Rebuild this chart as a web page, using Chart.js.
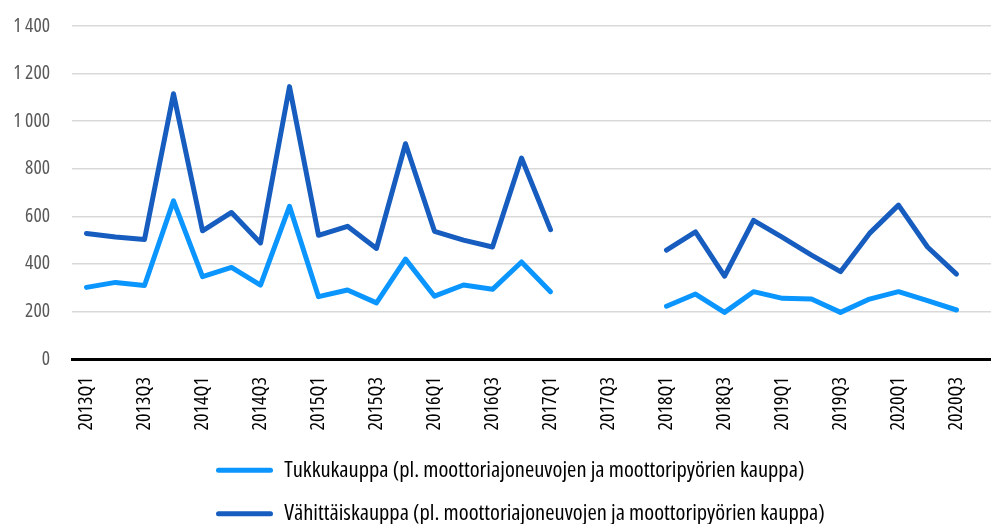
<!DOCTYPE html>
<html>
<head>
<meta charset="utf-8">
<script src="https://cdn.jsdelivr.net/npm/chart.js@4/dist/chart.umd.min.js"></script>
<style>
  html, body { margin: 0; padding: 0; overflow: hidden; background: #fff; }
  #chart { display: block; }
</style>
</head>
<body>
<canvas id="chart" width="1010" height="535"></canvas>
<script>
  // quarters 2013Q1 .. 2020Q4 (original picture is cropped at the right edge)
  const quarters = [
    '2013Q1','2013Q2','2013Q3','2013Q4',
    '2014Q1','2014Q2','2014Q3','2014Q4',
    '2015Q1','2015Q2','2015Q3','2015Q4',
    '2016Q1','2016Q2','2016Q3','2016Q4',
    '2017Q1','2017Q2','2017Q3','2017Q4',
    '2018Q1','2018Q2','2018Q3','2018Q4',
    '2019Q1','2019Q2','2019Q3','2019Q4',
    '2020Q1','2020Q2','2020Q3','2020Q4'
  ];

  const tukkukauppa = [
    301, 322, 309, 665,
    346, 385, 311, 642,
    262, 290, 236, 420,
    264, 311, 293, 408,
    283, null, null, null,
    222, 273, 196, 283,
    255, 252, 196, 252,
    283, 245, 206, null
  ];

  const vahittaiskauppa = [
    528, 513, 502, 1115,
    539, 616, 488, 1145,
    520, 558, 465, 905,
    537, 500, 471, 845,
    544, null, null, null,
    458, 534, 348, 583,
    511, 437, 367, 528,
    647, 471, 357, null
  ];

  const yTicks = [0, 200, 400, 600, 800, 1000, 1200, 1400];

  // 'condensed' goes in the weight slot so the font string becomes "condensed 20px 'Open Sans'"
  const FONT = "'Open Sans', 'Roboto Condensed', sans-serif";
  const COND = 'condensed';

  // legend rows start at the same x, like the original
  const legendPlace = {
    id: 'legendPlace',
    afterLayout(chart) {
      chart.legend.left = 216 - chart.legend.options.labels.padding;
    }
  };

  const ctx = document.getElementById('chart').getContext('2d');
  const chart = new Chart(ctx, {
    type: 'line',
    data: {
      labels: quarters,
      datasets: [{
        label: 'Tukkukauppa (pl. moottoriajoneuvojen ja moottoripyörien kauppa)',
        data: tukkukauppa,
        borderColor: '#0A95FF',
        backgroundColor: '#0A95FF',
        borderWidth: 5,
        borderCapStyle: 'round',
        borderJoinStyle: 'round',
        pointRadius: 0,
        tension: 0,
        spanGaps: false
      }, {
        label: 'Vähittäiskauppa (pl. moottoriajoneuvojen ja moottoripyörien kauppa)',
        data: vahittaiskauppa,
        borderColor: '#165DBF',
        backgroundColor: '#165DBF',
        borderWidth: 5,
        borderCapStyle: 'round',
        borderJoinStyle: 'round',
        pointRadius: 0,
        tension: 0,
        spanGaps: false
      }]
    },
    plugins: [legendPlace],
    options: {
      responsive: false,
      animation: false,
      layout: {
        padding: { left: 0, right: 10, top: 26, bottom: 0 }
      },
      scales: {
        x: {
          offset: true,
          grid: { display: false, drawTicks: false },
          border: { display: true, color: '#000', width: 3 },
          ticks: {
            autoSkip: false,
            maxRotation: 90,
            minRotation: 90,
            padding: 18,
            color: '#000',
            font: { family: FONT, weight: COND, size: 20 },
            callback: function(value, index) {
              return index % 2 === 0 ? quarters[index] : '';
            }
          },
          afterFit: function(scale) {
            scale.height = 79;
            scale.paddingLeft = 0;
            scale.paddingRight = 0;
          }
        },
        y: {
          min: 0,
          max: 1400,
          afterBuildTicks: function(scale) {
            scale.ticks = yTicks.map(v => ({ value: v }));
          },
          grid: {
            color: '#D9D9D9',
            lineWidth: 1.5,
            drawTicks: false
          },
          border: { display: false },
          ticks: {
            padding: 22,
            color: '#595959',
            font: { family: FONT, weight: COND, size: 19.5 },
            callback: function(value) {
              return value >= 1000 ? Math.floor(value / 1000) + ' ' + String(value % 1000).padStart(3, '0') : String(value);
            }
          },
          afterFit: function(scale) {
            scale.width = 72;
            scale.paddingTop = 0;
            scale.paddingBottom = 0;
          }
        }
      },
      plugins: {
        tooltip: { enabled: false },
        legend: {
          position: 'bottom',
          align: 'start',
          labels: {
            boxWidth: 57,
            boxHeight: 5,
            useBorderRadius: true,
            borderRadius: 2.5,
            padding: 21,
            color: '#000',
            font: { family: FONT, weight: COND, size: 22.5 },
            generateLabels: function(chart) {
              return Chart.defaults.plugins.legend.labels.generateLabels(chart).map(l => ({
                ...l, fillStyle: l.strokeStyle, lineWidth: 0
              }));
            }
          }
        }
      }
    }
  });
</script>
</body>
</html>
